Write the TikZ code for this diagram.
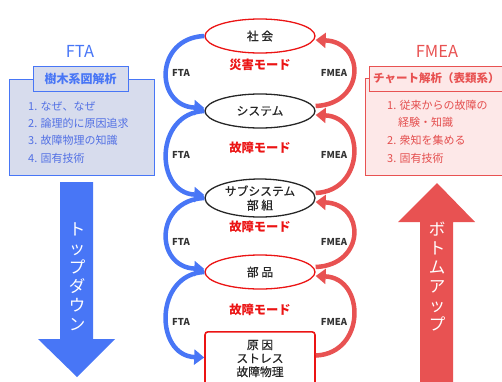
\documentclass[tikz,border=0pt]{standalone}
\usepackage{fontspec}
\setmainfont{Noto Sans CJK JP}
\newfontfamily\medfont{Noto Sans CJK JP}[FakeBold=0.6]
\usetikzlibrary{shapes.geometric,arrows.meta}
\definecolor{ftablue}{RGB}{72,118,246}
\definecolor{fmeared}{RGB}{232,82,82}
\definecolor{modered}{RGB}{235,20,20}
\definecolor{lboxfill}{RGB}{215,220,237}
\definecolor{rboxfill}{RGB}{253,232,232}
\definecolor{litem}{RGB}{82,112,228}
\definecolor{ritem}{RGB}{228,78,78}
\begin{document}
\begin{tikzpicture}[x=1pt,y=-1pt,
  lvl/.style={ellipse, draw=black!85, line width=1.3pt, minimum width=110pt, minimum height=34pt, inner sep=0pt,
    text=black!85, font=\medfont\fontsize{11.8}{14}\selectfont, align=center},
  modelbl/.style={text=modered, font=\bfseries\fontsize{12.3}{14}\selectfont},
  ftaarc/.style={draw=ftablue, line width=4.5pt, -{Triangle[length=10pt,width=15pt]}},
  fmeaarc/.style={draw=fmeared, line width=4.5pt, -{Triangle[length=10pt,width=15pt]}},
  arclbl/.style={text=black!80, font=\bfseries\fontsize{9.5}{10}\selectfont},
  ttl/.style={font=\fontsize{16.5}{18}\selectfont},
  item/.style={anchor=west, inner sep=0pt, font=\fontsize{11}{12}\selectfont},
  vtext/.style={align=center, text=white, font=\fontsize{16.5}{19}\selectfont}
]
\useasboundingbox (0,0) rectangle (502,381);

% ---------- left side (FTA) ----------
\node[ttl, text=ftablue] (ftattl) at (80,51) {FTA};
\node[draw=ftablue, fill=lboxfill, line width=1pt, minimum width=145pt, minimum height=96pt, anchor=north west, inner sep=0pt] (lbox) at (9,79) {};
\node[draw=ftablue, fill=lboxfill, line width=1pt, minimum width=95pt, minimum height=25pt, inner sep=0pt,
  text=ftablue, font=\bfseries\fontsize{12}{14}\selectfont] (ltitle) at (80.5,78.5) {樹木系図解析};
\node[item, text=litem] (l1) at (28,106) {1. なぜ、なぜ};
\node[item, text=litem] (l2) at (28,123) {2. 論理的に原因追求};
\node[item, text=litem] (l3) at (28,140) {3. 故障物理の知識};
\node[item, text=litem] (l4) at (28,158) {4. 固有技術};

\fill[ftablue] (60,182) -- (93,182) -- (93,339) -- (115,339) -- (77,377) -- (38,339) -- (60,339) -- cycle;
\node[vtext] (down) at (77,277) {ト\\ッ\\プ\\ダ\\ウ\\ン};

% ---------- right side (FMEA) ----------
\node[ttl, text=fmeared] (fmeattl) at (437,51) {FMEA};
\node[draw=fmeared, fill=rboxfill, line width=1pt, minimum width=137pt, minimum height=97pt, anchor=north west, inner sep=0pt] (rbox) at (365,78) {};
\node[draw=fmeared, fill=rboxfill, line width=1pt, minimum width=134pt, minimum height=25pt, anchor=north west, inner sep=0pt] (rtitlebox) at (369,66) {};
\node[anchor=west, inner sep=0pt, text=fmeared, font=\bfseries\fontsize{11.5}{14}\selectfont] (rtitle) at (373,78.5) {チャート解析（表類系）};
\node[item, text=ritem] (r1) at (387,105) {1. 従来からの故障の};
\node[item, text=ritem] (r1b) at (398,122) {経験・知識};
\node[item, text=ritem] (r2) at (387,140) {2. 衆知を集める};
\node[item, text=ritem] (r3) at (387,158) {3. 固有技術};

\fill[fmeared] (420,382) -- (420,222) -- (398,222) -- (437,183) -- (475,222) -- (453,222) -- (453,382) -- cycle;
\node[vtext] (up) at (437,277) {ボ\\ト\\ム\\ア\\ッ\\プ};

% ---------- centre levels ----------
\node[lvl, draw=modered] (n1) at (260,36) {社 会};
\node[lvl] (n2) at (260,111) {システム};
\node[lvl, minimum height=38pt] (n3) at (260,198) {サブシステム\\部 組};
\node[lvl, draw=modered] (n4) at (260,272) {部 品};
\node[draw=modered, line width=1.6pt, rounded corners=3pt, minimum width=110pt, minimum height=58pt, inner sep=0pt,
  anchor=north] (n5) at (260,331) {};
\node[text=black!85, font=\medfont\fontsize{11.8}{13.5}\selectfont, align=center] (n5t) at (260,358.5) {原 因\\ストレス\\故障物理};

\node[modelbl] (m1) at (260,65) {災害モード};
\node[modelbl] (m2) at (260,148) {故障モード};
\node[modelbl] (m3) at (260,227) {故障モード};
\node[modelbl] (m4) at (260,310) {故障モード};

% ---------- FTA arcs ----------
\draw[ftaarc] (n1.west) .. controls +(-50,2) and +(-50,-2) .. ([yshift=3pt]n2.west);
\draw[ftaarc] (n2.west) .. controls +(-50,2) and +(-50,-2) .. ([yshift=3pt]n3.west);
\draw[ftaarc] (n3.west) .. controls +(-50,2) and +(-50,-2) .. ([yshift=3pt]n4.west);
\draw[ftaarc] (n4.west) .. controls +(-50,2) and +(-50,-2) .. ([yshift=1pt]n5t.west -| n5.west);
\node[arclbl] (f1) at (181,73) {FTA};
\node[arclbl] (f2) at (181,155) {FTA};
\node[arclbl] (f3) at (181,242) {FTA};
\node[arclbl] (f4) at (181,322) {FTA};

% ---------- FMEA arcs ----------
\draw[fmeaarc] ([yshift=5pt]n2.east) .. controls +(50,-2) and +(50,2) .. ([yshift=-4pt]n1.east);
\draw[fmeaarc] ([yshift=5pt]n3.east) .. controls +(50,-2) and +(50,2) .. ([yshift=-4pt]n2.east);
\draw[fmeaarc] ([yshift=5pt]n4.east) .. controls +(50,-2) and +(50,2) .. ([yshift=-4pt]n3.east);
\draw[fmeaarc] ([yshift=3pt]n5t.east -| n5.east) .. controls +(50,-2) and +(50,2) .. ([yshift=-4pt]n4.east);
\node[arclbl] (e1) at (334,73) {FMEA};
\node[arclbl] (e2) at (334,155) {FMEA};
\node[arclbl] (e3) at (334,242) {FMEA};
\node[arclbl] (e4) at (334,322) {FMEA};
\end{tikzpicture}
\end{document}
